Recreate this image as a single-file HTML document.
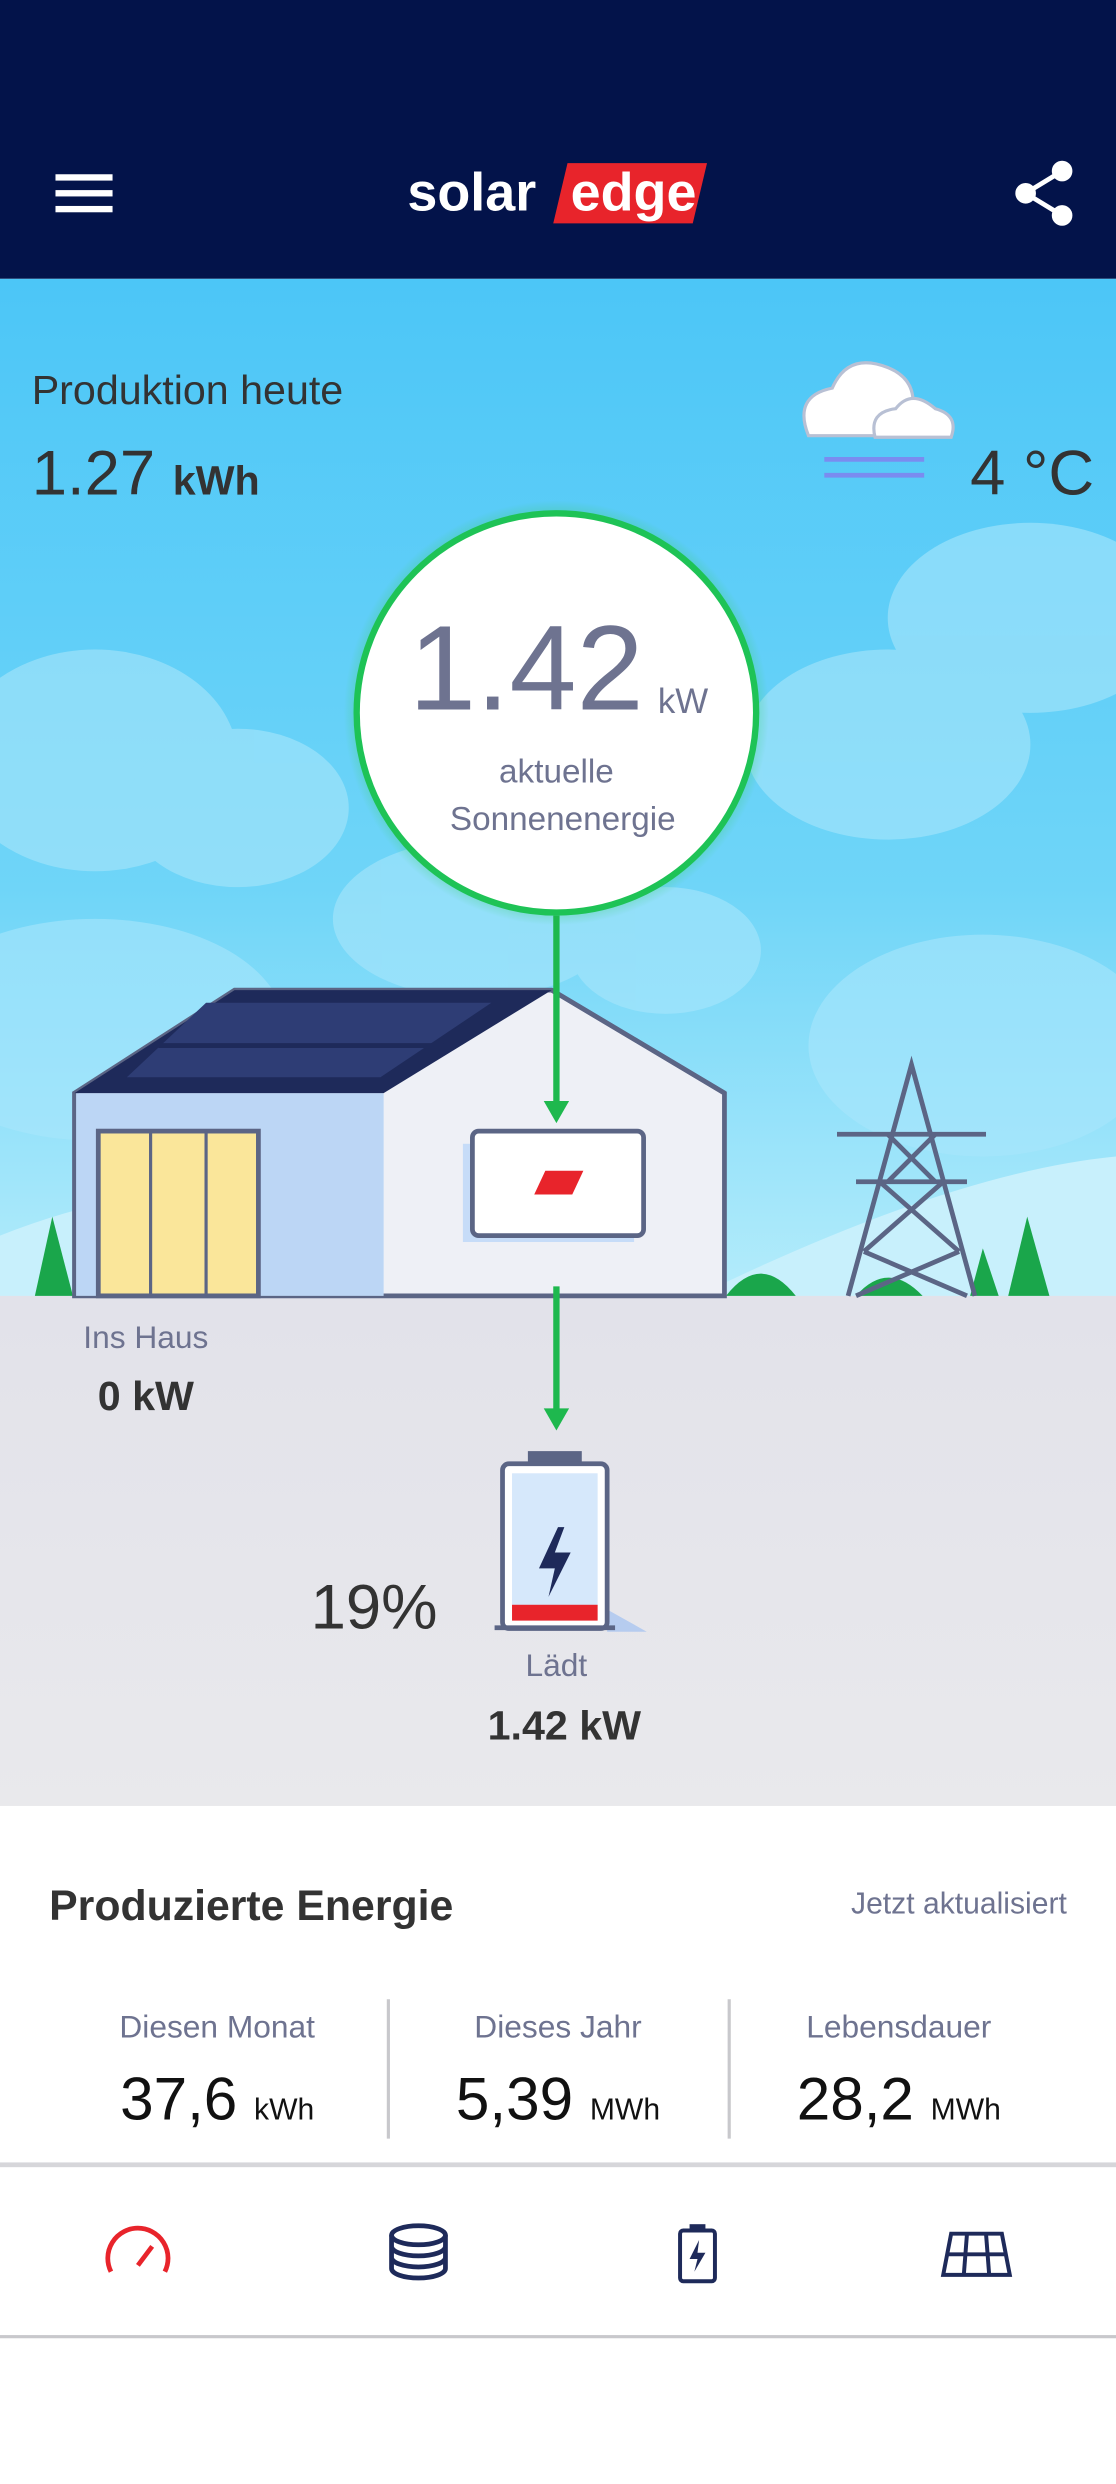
<!DOCTYPE html>
<html><head><meta charset="utf-8"><style>
html,body{margin:0;padding:0;background:#fff;}
svg{display:block;}
text{font-family:"Liberation Sans",sans-serif;}
</style></head><body>
<svg width="1116" height="2484" viewBox="0 0 704 1568" preserveAspectRatio="none" xmlns="http://www.w3.org/2000/svg">
<defs>
<linearGradient id="sky" x1="0" y1="0" x2="0" y2="1">
<stop offset="0" stop-color="#4cc6f7"/><stop offset="0.6" stop-color="#6fd5f8"/><stop offset="1" stop-color="#b4ecfb"/></linearGradient>
<linearGradient id="gnd" x1="0" y1="0" x2="0" y2="1">
<stop offset="0" stop-color="#e2e2ea"/><stop offset="1" stop-color="#e9e9ec"/></linearGradient>
<radialGradient id="glow"><stop offset="0.9" stop-color="#3ccf6a" stop-opacity="0.5"/><stop offset="1" stop-color="#3ccf6a" stop-opacity="0"/></radialGradient>
</defs>
<!-- header -->
<rect x="0" y="0" width="704" height="176" fill="#03134a"/>
<rect x="35" y="110" width="36" height="4" fill="#fff"/><rect x="35" y="120" width="36" height="4" fill="#fff"/><rect x="35" y="130" width="36" height="4" fill="#fff"/>
<text x="257" y="133" font-size="34" font-weight="bold" fill="#fff">solar</text>
<polygon points="358,103 446,103 437,141 349,141" fill="#e8242b"/>
<text x="360" y="133" font-size="34" font-weight="bold" fill="#fff">edge</text>
<g fill="#fff" stroke="#fff" stroke-width="3"><circle cx="670" cy="108" r="5"/><circle cx="647" cy="122" r="5"/><circle cx="670" cy="136" r="5"/><line x1="670" y1="108" x2="647" y2="122"/><line x1="647" y1="122" x2="670" y2="136"/></g>
<!-- sky -->
<rect x="0" y="176" width="704" height="642" fill="url(#sky)"/>
<g fill="#a9e6fb" opacity="0.6">
<ellipse cx="60" cy="480" rx="90" ry="70"/><ellipse cx="150" cy="510" rx="70" ry="50"/>
<ellipse cx="650" cy="390" rx="90" ry="60"/><ellipse cx="560" cy="470" rx="90" ry="60"/>
<ellipse cx="300" cy="580" rx="90" ry="50"/><ellipse cx="420" cy="600" rx="60" ry="40"/>
<ellipse cx="60" cy="650" rx="120" ry="70"/><ellipse cx="620" cy="660" rx="110" ry="70"/>
</g>
<path d="M440 818 Q600 740 704 730 L704 818Z" fill="#c8f0fc"/>
<path d="M0 780 Q150 720 300 780 L300 818 L0 818Z" fill="#c8f0fc"/>
<text x="20" y="255" font-size="26" fill="#333">Produktion heute</text>
<text x="20" y="312" font-size="40" fill="#333">1.27 <tspan font-size="26" font-weight="bold">kWh</tspan></text>
<g fill="#fff" stroke="#b8c0d4" stroke-width="2"><path d="M510 275 Q500 250 525 245 Q535 222 560 232 Q580 240 575 262 Q590 265 585 275Z"/><path d="M552 276 Q548 260 565 258 Q575 245 590 258 Q605 262 600 276Z"/></g>
<g stroke="#7a8cf0" stroke-width="3"><line x1="520" y1="290" x2="583" y2="290"/><line x1="520" y1="300" x2="583" y2="300"/></g>
<text x="612" y="312" font-size="40" fill="#333">4 °C</text>
<!-- circle -->
<circle cx="351" cy="450" r="134" fill="url(#glow)"/>
<circle cx="351" cy="450" r="126" fill="#fff" stroke="#1ec356" stroke-width="4"/>
<text x="258" y="448" font-size="76" fill="#6e7390" textLength="148">1.42</text>
<text x="415" y="450" font-size="22" fill="#6e7390">kW</text>
<text x="351" y="494" font-size="21" fill="#6e7390" text-anchor="middle">aktuelle</text>
<text x="355" y="524" font-size="21" fill="#6e7390" text-anchor="middle">Sonnenenergie</text>
<!-- ground -->
<rect x="0" y="818" width="704" height="322" fill="url(#gnd)"/>
<!-- trees -->
<polygon points="22,818 33,768 46,818" fill="#1aa64b"/>
<polygon points="636,818 648,768 662,818" fill="#1aa64b"/>
<polygon points="612,818 620,788 630,818" fill="#1aa64b"/>
<path d="M458 818 Q480 790 502 818Z" fill="#1aa64b"/>
<path d="M540 818 Q560 795 582 818Z" fill="#1aa64b"/>
<!-- pylon -->
<g stroke="#5b6585" stroke-width="3" fill="none"><path d="M535 818 L575 672 L615 818"/><line x1="528" y1="716" x2="622" y2="716"/><line x1="540" y1="746" x2="610" y2="746"/><path d="M560 716 L590 746 M590 716 L560 746 M555 746 L605 790 M595 746 L545 790 M545 790 L610 818 M605 790 L540 818"/></g>
<!-- house -->
<polygon points="47,690 148,625 348,625 457,690 457,818 47,818" fill="#eef0f6" stroke="#5b6585" stroke-width="3"/>
<polygon points="48,690 242,690 242,818 48,818" fill="#bcd6f5"/>
<polygon points="47,690 148,625 348,625 242,690" fill="#1e2a5a"/>
<polygon points="80,680 130,633 310,633 240,680" fill="#2e3d75"/>
<line x1="100" y1="660" x2="280" y2="660" stroke="#1e2a5a" stroke-width="3"/>
<line x1="348" y1="625" x2="457" y2="690" stroke="#5b6585" stroke-width="3"/>
<rect x="62" y="714" width="101" height="104" fill="#fae69a" stroke="#5b6585" stroke-width="3"/>
<line x1="95" y1="714" x2="95" y2="818" stroke="#5b6585" stroke-width="2"/><line x1="130" y1="714" x2="130" y2="818" stroke="#5b6585" stroke-width="2"/>
<rect x="292" y="722" width="108" height="62" fill="#c6dcf8"/>
<rect x="298" y="714" width="108" height="66" rx="4" fill="#fff" stroke="#5b6585" stroke-width="3"/>
<polygon points="344,739 368,739 361,754 337,754" fill="#e8242b"/>
<!-- arrows -->
<line x1="351" y1="578" x2="351" y2="698" stroke="#1eb84e" stroke-width="4"/>
<polygon points="343,695 359,695 351,709" fill="#1eb84e"/>
<line x1="351" y1="812" x2="351" y2="892" stroke="#1eb84e" stroke-width="4"/>
<polygon points="343,889 359,889 351,903" fill="#1eb84e"/>
<!-- battery -->
<polygon points="383,1016 408,1030 383,1030" fill="#b6ccef"/>
<rect x="333" y="916" width="34" height="8" fill="#5b6585"/>
<rect x="317" y="924" width="66" height="104" rx="4" fill="#fff" stroke="#5b6585" stroke-width="3"/>
<rect x="323" y="930" width="54" height="84" fill="#d6e8fb"/>
<rect x="323" y="1013" width="54" height="10" fill="#e8242b"/>
<polygon points="352,964 340,990 350,990 346,1008 360,980 350,980 356,964" fill="#1e2a5a"/>
<rect x="312" y="1026" width="76" height="3" fill="#5b6585"/>
<text x="92" y="851" font-size="20" fill="#6e7390" text-anchor="middle">Ins Haus</text>
<text x="92" y="890" font-size="26" font-weight="bold" fill="#333" text-anchor="middle">0 kW</text>
<text x="236" y="1028" font-size="40" fill="#333" text-anchor="middle">19%</text>
<text x="351" y="1058" font-size="20" fill="#6e7390" text-anchor="middle">Lädt</text>
<text x="356" y="1098" font-size="26" font-weight="bold" fill="#333" text-anchor="middle">1.42 kW</text>
<!-- bottom -->
<text x="31" y="1212" font-size="27" font-weight="bold" fill="#333">Produzierte Energie</text>
<text x="673" y="1208" font-size="19" fill="#6e7390" text-anchor="end">Jetzt aktualisiert</text>
<line x1="245" y1="1262" x2="245" y2="1350" stroke="#c8c8cc" stroke-width="2"/>
<line x1="460" y1="1262" x2="460" y2="1350" stroke="#c8c8cc" stroke-width="2"/>
<text x="137" y="1286" font-size="20" fill="#6e7390" text-anchor="middle">Diesen Monat</text>
<text x="352" y="1286" font-size="20" fill="#6e7390" text-anchor="middle">Dieses Jahr</text>
<text x="567" y="1286" font-size="20" fill="#6e7390" text-anchor="middle">Lebensdauer</text>
<text x="137" y="1338" font-size="38" fill="#111" text-anchor="middle">37,6 <tspan font-size="19">kWh</tspan></text>
<text x="352" y="1338" font-size="38" fill="#111" text-anchor="middle">5,39 <tspan font-size="19">MWh</tspan></text>
<text x="567" y="1338" font-size="38" fill="#111" text-anchor="middle">28,2 <tspan font-size="19">MWh</tspan></text>
<rect x="0" y="1365" width="704" height="3" fill="#d6d6da"/>
<!-- nav icons -->
<path d="M70 1434 A19 19 0 1 1 104 1434" fill="none" stroke="#e8242b" stroke-width="3"/>
<line x1="87" y1="1430" x2="96" y2="1418" stroke="#e8242b" stroke-width="3"/>
<g fill="none" stroke="#1e2a5a" stroke-width="3"><ellipse cx="264" cy="1411" rx="17" ry="6"/><path d="M247 1411 V1432 A17 6 0 0 0 281 1432 V1411 M247 1418 A17 6 0 0 0 281 1418 M247 1425 A17 6 0 0 0 281 1425"/></g>
<rect x="429" y="1408" width="22" height="32" rx="2" fill="none" stroke="#1e2a5a" stroke-width="2.5"/>
<rect x="435" y="1404" width="10" height="4" fill="#1e2a5a"/>
<polygon points="441,1414 435,1426 440,1426 438,1434 445,1422 440,1422" fill="#1e2a5a"/>
<g fill="none" stroke="#1e2a5a" stroke-width="2.5"><polygon points="600,1410 632,1410 637,1436 595,1436"/><line x1="597" y1="1423" x2="635" y2="1423"/><line x1="610" y1="1410" x2="608" y2="1436"/><line x1="622" y1="1410" x2="624" y2="1436"/></g>
<rect x="0" y="1474" width="704" height="2" fill="#c8c8cc"/>
</svg>
</body></html>
